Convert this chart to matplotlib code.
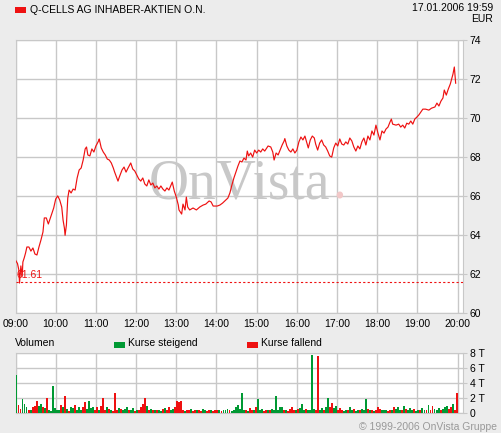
import numpy as np
import matplotlib
matplotlib.use('Agg')
import matplotlib.pyplot as plt
from matplotlib.patches import Rectangle

plt.rcParams['font.family'] = ['Liberation Sans', 'DejaVu Sans']

# Price trace, minutes after 09:00 -> EUR
price_min = [0, 3, 5, 6, 8, 10, 11, 13, 15, 17, 20, 23, 26, 29, 32, 35, 38, 41, 43, 46,
             49, 51, 54, 57, 60, 63, 66, 69, 71, 73, 74, 76, 78, 80, 83, 86, 89, 92, 95, 98,
             101, 104, 106, 108, 111, 114, 117, 120, 124, 125, 128, 131, 134, 137, 140, 143, 146, 148, 153, 155,
             159, 162, 165, 168, 172, 175, 178, 181, 184, 187, 190, 193, 196, 199, 202, 205, 208, 211, 214, 217,
             220, 223, 226, 229, 234, 237, 240, 243, 244, 248, 250, 253, 255, 257, 260, 265, 270, 275, 280, 284,
             289, 292, 295, 301, 305, 309, 314, 317, 320, 323, 326, 329, 332, 335, 338, 341, 344, 346, 348, 351,
             354, 357, 360, 363, 366, 369, 372, 377, 381, 384, 386, 389, 392, 395, 398, 401, 402, 405, 408, 411,
             414, 417, 420, 423, 426, 429, 432, 435, 437, 440, 443, 446, 448, 451, 454, 457, 460, 463, 466, 469,
             472, 475, 478, 481, 484, 487, 490, 493, 496, 499, 502, 505, 508, 511, 514, 517, 520, 523, 526, 529,
             532, 535, 538, 541, 544, 547, 550, 553, 556, 559, 561, 563, 568, 572, 575, 578, 581, 584, 587, 590,
             593, 596, 599, 602, 605, 608, 612, 617, 621, 626, 629, 632, 635, 638, 640, 643, 646, 649, 651, 653,
             655, 657]
price_val = [62.73, 62.55, 62.22, 61.55, 62.43, 61.90, 62.63, 62.84, 63.09, 63.40, 63.40, 63.19, 63.35, 63.04, 62.99, 63.40, 63.76, 64.17, 64.89, 64.89,
             64.58, 64.78, 65.09, 65.40, 65.86, 66.02, 65.81, 65.45, 64.78, 64.37, 64.00, 64.53, 65.91, 66.32, 66.17, 66.37, 66.32, 66.94, 67.35, 67.45,
             67.86, 68.43, 68.53, 68.12, 68.07, 68.43, 68.27, 68.58, 68.84, 68.94, 68.48, 68.27, 68.12, 67.91, 67.86, 67.71, 67.45, 67.24, 66.78, 66.99,
             67.35, 67.50, 67.24, 67.45, 67.71, 67.40, 67.30, 67.09, 66.89, 66.78, 66.94, 66.63, 66.53, 66.84, 66.58, 66.68, 66.43, 66.53, 66.37, 66.53,
             66.37, 66.27, 66.43, 66.32, 66.73, 66.27, 65.96, 65.55, 65.30, 65.09, 65.60, 65.30, 65.96, 65.45, 65.30, 65.40, 65.30, 65.45, 65.55, 65.60,
             65.76, 65.71, 65.50, 65.50, 65.55, 65.65, 65.81, 65.91, 66.17, 66.58, 66.94, 67.24, 67.55, 67.81, 67.76, 67.96, 67.86, 68.32, 68.07, 68.22,
             68.01, 68.37, 68.22, 68.37, 68.27, 68.43, 68.32, 68.58, 68.53, 68.27, 67.86, 68.22, 68.12, 68.37, 68.63, 68.84, 68.96, 68.58, 68.37, 68.27,
             68.43, 68.22, 68.37, 68.79, 69.04, 68.89, 69.09, 68.73, 68.48, 68.89, 69.09, 68.99, 68.68, 68.37, 68.73, 68.89, 68.63, 68.53, 68.32, 68.07,
             68.01, 68.48, 68.73, 68.58, 68.94, 68.68, 68.63, 68.79, 68.68, 68.99, 68.84, 68.53, 68.32, 68.58, 68.43, 68.79, 68.99, 68.63, 69.09, 68.89,
             69.35, 69.14, 69.65, 69.24, 68.89, 69.35, 69.24, 69.45, 69.55, 69.81, 69.96, 69.70, 69.65, 69.70, 69.55, 69.65, 69.50, 69.75, 69.70, 69.86,
             69.70, 69.96, 70.06, 70.17, 70.32, 70.47, 70.47, 70.42, 70.52, 70.58, 70.78, 70.63, 70.88, 71.04, 71.45, 71.19, 71.50, 71.76, 72.01, 72.27,
             72.63, 71.80]
prev_close = 61.61

# Volume per 3-minute bucket (thousand shares), one row per hour
volume = [5.1, 1.1, 0.6, 1.9, 1.3, 0.8, 0.4, 0.5, 0.9, 1.0, 1.7, 1.0, 1.2, 0.9, 0.7, 2.0, 0.5, 0.3, 3.7, 0.7,
          0.5, 0.4, 1.1, 0.8, 2.3, 0.6, 0.3, 0.9, 0.7, 1.1, 0.5, 0.8, 0.4, 0.9, 1.5, 0.6, 1.7, 0.7, 0.9, 0.5,
          0.8, 0.4, 1.0, 2.0, 0.5, 0.9, 0.6, 0.4, 0.3, 2.7, 0.5, 0.7, 0.6, 0.4, 0.6, 0.9, 0.5, 0.4, 0.7, 0.3,
          0.5, 0.4, 0.9, 1.2, 2.0, 1.0, 0.5, 0.6, 0.4, 0.5, 0.4, 0.5, 0.3, 0.6, 0.7, 0.5, 0.9, 0.4, 0.6, 0.8,
          1.6, 1.5, 1.7, 0.5, 0.3, 0.4, 0.5, 0.6, 0.3, 0.4, 0.5, 0.4, 0.3, 0.6, 0.4, 0.3, 0.5, 0.4, 0.3, 0.4,
          0.5, 0.4, 0.3, 0.5, 0.4, 0.6, 0.5, 0.3, 0.4, 0.9, 1.1, 0.6, 2.7, 0.4, 0.5, 0.3, 0.7, 0.4, 0.5, 0.9,
          1.9, 0.4, 0.6, 0.3, 0.4, 0.5, 0.4, 0.6, 0.5, 2.3, 0.4, 0.8, 0.9, 0.5, 0.4, 0.3, 0.6, 0.9, 0.5, 0.4,
          0.6, 0.7, 1.2, 0.5, 0.6, 0.4, 0.5, 7.8, 0.6, 0.4, 7.6, 0.5, 0.7, 0.4, 0.8, 2.0, 0.9, 1.4, 0.7, 1.0,
          0.5, 0.7, 0.4, 0.3, 0.4, 0.5, 0.9, 0.4, 0.6, 0.3, 0.5, 0.4, 0.6, 0.5, 1.9, 0.6, 0.5, 0.4, 0.3, 0.5,
          0.9, 0.6, 0.5, 0.4, 0.5, 0.3, 0.4, 0.5, 0.8, 0.6, 0.9, 0.5, 0.4, 1.0, 0.6, 0.5, 0.7, 0.4, 0.6, 0.3,
          0.4, 0.5, 0.7, 0.4, 0.5, 1.1, 0.4, 1.0, 0.6, 0.5, 0.7, 0.5, 0.6, 0.9, 1.0, 0.6, 0.8, 1.3, 0.5, 2.7]
# g = Kurse steigend, r = Kurse fallend (same rows as volume)
vol_dir = ''.join(['grrgggrgrrrggrgrgggg',
                   'ggrgrgrggrgggrrggggr',
                   'rgrrrgrgrrrgrgggrggr',
                   'grrrrgrgrgrggrgrrggr',
                   'rrrrgrrgrrgrrggrrgrr',
                   'rgrgggrgggggggrgrrgr',
                   'gggrrgrggggggrgrrrrg',
                   'rgggrggggrrggrggrrgg',
                   'rrrggrggrggrgggrgrgr',
                   'rrgggrrgrgggrgrgggrg',
                   'grggrgrrgggrgggrrgrr'])

hours = ['09:00', '10:00', '11:00', '12:00', '13:00', '14:00', '15:00',
         '16:00', '17:00', '18:00', '19:00', '20:00']
price_ticks = [60, 62, 64, 66, 68, 70, 72, 74]
vol_ticks = [0, 2, 4, 6, 8]
vol_tick_labels = ['0', '2 T', '4 T', '6 T', '8 T']

bg = '#ececec'
grid_c = '#c8c8c8'
red = '#ee1111'
green = '#009933'
fs = 7.5

fig = plt.figure(figsize=(5.01, 4.33), dpi=100, facecolor=bg)
W, H = 501.0, 433.0
x_max = 667.5

# price panel
ax = fig.add_axes([15.5 / W, 1 - 313.3 / H, 447.2 / W, 273.0 / H])
ax.set_facecolor('white')
ax.plot(price_min, price_val, color=red, lw=0.85, zorder=4)
ax.axhline(prev_close, color=red, lw=0.8, ls=(0, (2, 2)), zorder=3)
ax.text(2, prev_close + 0.08, '61.61', color=red, fontsize=fs, va='bottom', ha='left', zorder=5)
ax.text(0.5, 0.422, 'OnVista', transform=ax.transAxes, family='Liberation Serif',
        fontsize=40, color='#c8c8c8', ha='center', va='baseline', zorder=2)
ax.text(0.708, 0.422, '.', transform=ax.transAxes, family='Liberation Serif',
        fontsize=40, color='#f2c8c8', ha='left', va='baseline', zorder=2)
ax.set_xlim(0, x_max)
ax.set_ylim(60, 74)
ax.set_xticks(np.arange(len(hours)) * 60)
ax.set_xticklabels(hours, fontsize=fs)
ax.yaxis.tick_right()
ax.set_yticks(price_ticks)
ax.set_yticklabels([str(t) for t in price_ticks], fontsize=fs)
ax.tick_params(axis='x', length=0, pad=4)
ax.tick_params(axis='y', length=3, pad=2, color=grid_c)
ax.grid(True, color=grid_c, lw=1.0, zorder=1)
ax.set_axisbelow(True)
for s in ax.spines.values():
    s.set_color(grid_c)

# volume panel
axv = fig.add_axes([15.5 / W, 1 - 413.3 / H, 447.2 / W, 60.0 / H])
axv.set_facecolor('white')
bar_x = np.arange(len(volume)) * 3
bar_c = [green if d == 'g' else red for d in vol_dir[:len(volume)]]
axv.bar(bar_x, volume, width=2.9, align='edge', color=bar_c, edgecolor='none', lw=0,
        zorder=3, antialiased=False)
axv.set_xlim(0, x_max)
axv.set_ylim(0, 8)
axv.set_xticks(np.arange(len(hours)) * 60)
axv.set_xticklabels([])
axv.yaxis.tick_right()
axv.set_yticks(vol_ticks)
axv.set_yticklabels(vol_tick_labels, fontsize=fs)
axv.tick_params(axis='x', length=0)
axv.tick_params(axis='y', length=3, pad=2, color=grid_c)
axv.grid(True, color=grid_c, lw=1.0, zorder=1)
axv.set_axisbelow(True)
for s in axv.spines.values():
    s.set_color(grid_c)

# header and legend
fig.patches.append(Rectangle((15 / W, 1 - 13 / H), 11 / W, 6 / H, transform=fig.transFigure,
                             color=red, lw=0))
fig.text(30 / W, 1 - 9.7 / H, 'Q-CELLS AG INHABER-AKTIEN O.N.', fontsize=fs, va='center', ha='left')
fig.text(493 / W, 1 - 8.0 / H, '17.01.2006 19:59', fontsize=fs, va='center', ha='right')
fig.text(493 / W, 1 - 18.5 / H, 'EUR', fontsize=fs, va='center', ha='right')

fig.text(15 / W, 1 - 343.5 / H, 'Volumen', fontsize=fs, va='center', ha='left')
fig.patches.append(Rectangle((114 / W, 1 - 347.5 / H), 11 / W, 6 / H, transform=fig.transFigure,
                             color=green, lw=0))
fig.text(128 / W, 1 - 343.5 / H, 'Kurse steigend', fontsize=fs, va='center', ha='left')
fig.patches.append(Rectangle((247 / W, 1 - 347.5 / H), 11 / W, 6 / H, transform=fig.transFigure,
                             color=red, lw=0))
fig.text(261 / W, 1 - 343.5 / H, 'Kurse fallend', fontsize=fs, va='center', ha='left')

fig.text(497 / W, 1 - 427.5 / H, '\u00a9 1999-2006 OnVista Gruppe', fontsize=fs,
         color='#999999', va='center', ha='right')

fig.savefig('out.png', dpi=100, facecolor=bg)
